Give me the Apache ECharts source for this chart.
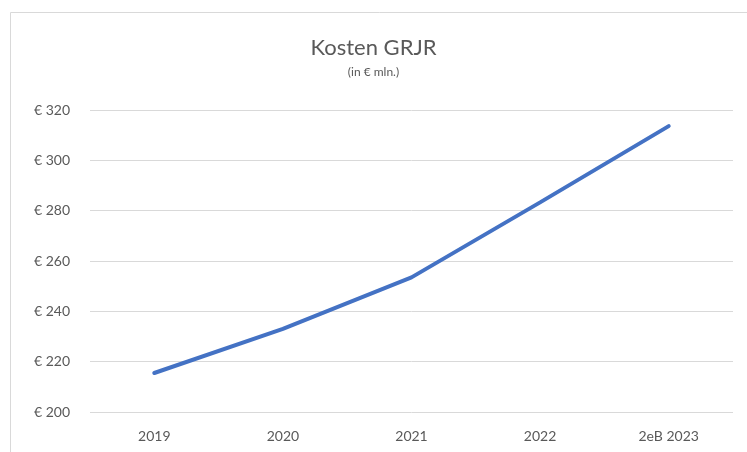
<!DOCTYPE html>
<html>
<head>
<meta charset="utf-8">
<script src="https://cdn.jsdelivr.net/npm/echarts@6/dist/echarts.min.js"></script>
<style>
  html, body { margin: 0; padding: 0; background: #fff; }
  #chart { width: 747px; height: 452px; }
</style>
</head>
<body>
<div id="chart"></div>
<script>
var years = ["2019", "2020", "2021", "2022", "2eB 2023"];
var kosten = [215.5, 233, 253.5, 283.3, 313.6];
var yMin = 200, yMax = 320, yStep = 20;

var chart = echarts.init(document.getElementById("chart"));
var font = "Lato, 'Open Sans', sans-serif";
chart.setOption({
  animation: false,
  textStyle: { fontFamily: font },
  graphic: [{
    type: "rect",
    shape: { x: 10.5, y: 12.5, width: 760, height: 460 },
    style: { fill: "none", stroke: "#d9d9d9", lineWidth: 1 },
    silent: true
  }],
  title: {
    text: "Kosten GRJR",
    subtext: "(in € mln.)",
    left: "center",
    top: 32,
    itemGap: 7,
    textStyle: { fontFamily: font, fontSize: 22, fontWeight: "normal", color: "#595959" },
    subtextStyle: { fontFamily: font, fontSize: 12, color: "#595959" }
  },
  grid: { left: 90, right: 14, top: 110, bottom: 40 },
  xAxis: {
    type: "category",
    data: years,
    boundaryGap: true,
    axisLine: { show: false },
    axisTick: { show: false },
    axisLabel: { color: "#595959", fontSize: 14, margin: 17, fontFamily: font }
  },
  yAxis: {
    type: "value",
    min: yMin,
    max: yMax,
    interval: yStep,
    axisLine: { show: false },
    axisTick: { show: false },
    axisLabel: {
      color: "#595959", fontSize: 14, margin: 20, fontFamily: font,
      formatter: function (v) { return "€ " + v; }
    },
    splitLine: { lineStyle: { color: "#d9d9d9", width: 1 } }
  },
  series: [{
    type: "line",
    data: kosten,
    showSymbol: false,
    smooth: false,
    lineStyle: { color: "#4472c4", width: 4, cap: "round" }
  }]
});
</script>
</body>
</html>
